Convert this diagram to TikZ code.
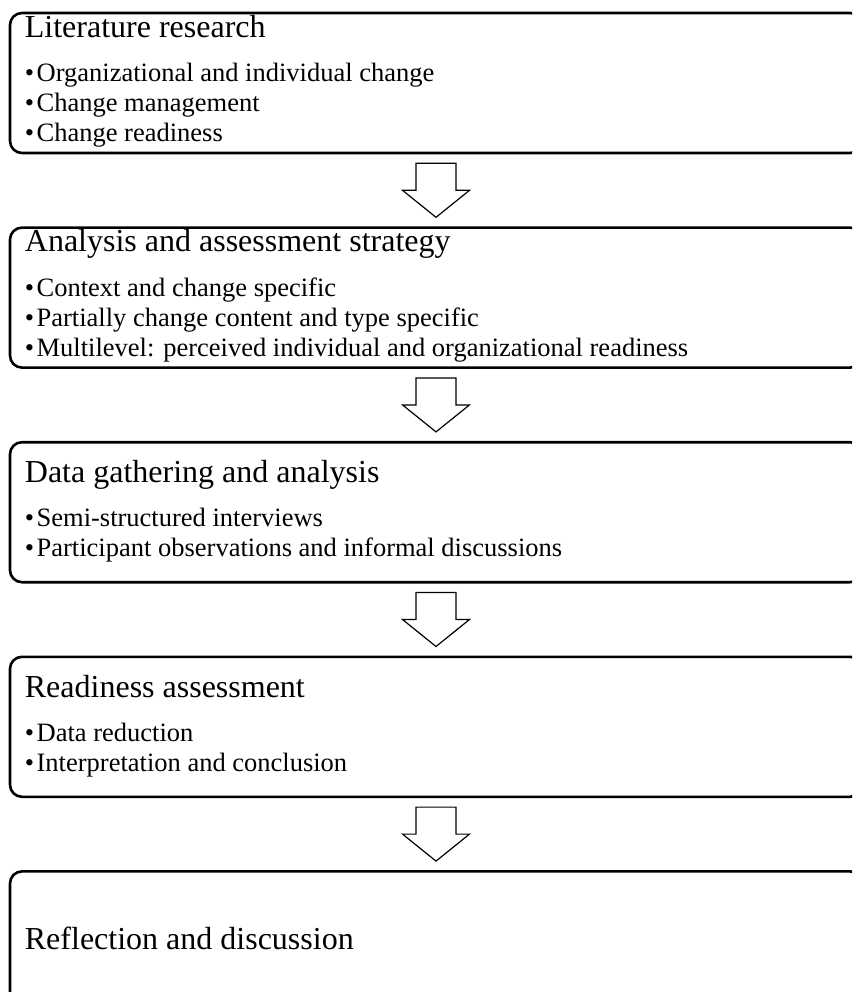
\documentclass[tikz,border=0pt]{standalone}
\usepackage{fontspec}
\setmainfont{Liberation Serif}
\usetikzlibrary{calc,positioning}

\tikzset{
  stage/.style={draw,line width=2.6pt,rounded corners=12pt,minimum width=852pt,minimum height=140pt,inner sep=0pt},
  stagetitle/.style={anchor=base west,inner sep=0pt,font=\fontsize{32}{38}\selectfont},
  point/.style={anchor=base west,inner sep=0pt,font=\fontsize{26.5}{30}\selectfont},
  flowarrow/.style={draw,line width=1.2pt,fill=white,line join=miter}
}
\newcommand{\pt}{\textbullet\hspace{2.5pt}}

\begin{document}
\begin{tikzpicture}[x=1pt,y=-1pt,node distance=72pt]
\clip (0,0) rectangle (852,992);
% the five stages
\node[stage] (b1) at (436,83) {};
\node[stage,below=of b1] (b2) {};
\node[stage,below=of b2] (b3) {};
\node[stage,below=of b3] (b4) {};
\node[stage,below=of b4] (b5) {};

\node[stagetitle] (t1) at ($(b1.north west)+(16,26)$) {Literature research};
\foreach \t [count=\k] in {Organizational and individual change,Change management,Change readiness}
  \node[point] (p1\k) at ($(b1.north west)+(16,40+30*\k)$) {\pt\t};

\node[stagetitle] (t2) at ($(b2.north west)+(16,25)$) {Analysis and assessment strategy};
\foreach \t [count=\k] in {Context and change specific,Partially change content and type specific,Multilevel: perceived individual and organizational readiness}
  \node[point] (p2\k) at ($(b2.north west)+(16,40+30*\k)$) {\pt\t};

\node[stagetitle] (t3) at ($(b3.north west)+(16,42)$) {Data gathering and analysis};
\foreach \t [count=\k] in {Semi-structured interviews,Participant observations and informal discussions}
  \node[point] (p3\k) at ($(b3.north west)+(16,56+30*\k)$) {\pt\t};

\node[stagetitle] (t4) at ($(b4.north west)+(16,42)$) {Readiness assessment};
\foreach \t [count=\k] in {Data reduction,Interpretation and conclusion}
  \node[point] (p4\k) at ($(b4.north west)+(16,56+30*\k)$) {\pt\t};

\node[stagetitle] (t5) at ($(b5.north west)+(16,79)$) {Reflection and discussion};

% block arrows between the stages
\foreach \i/\j in {1/2,2/3,3/4,4/5}{
  \coordinate (m\i) at ($(b\i.south)!.5!(b\j.north)$);
  \draw[flowarrow,shift={(m\i)}] (-20,-27) -- (20,-27) -- (20,0) -- (33.5,0) -- (0,27) -- (-33.5,0) -- (-20,0) -- cycle;
}
\end{tikzpicture}
\end{document}
